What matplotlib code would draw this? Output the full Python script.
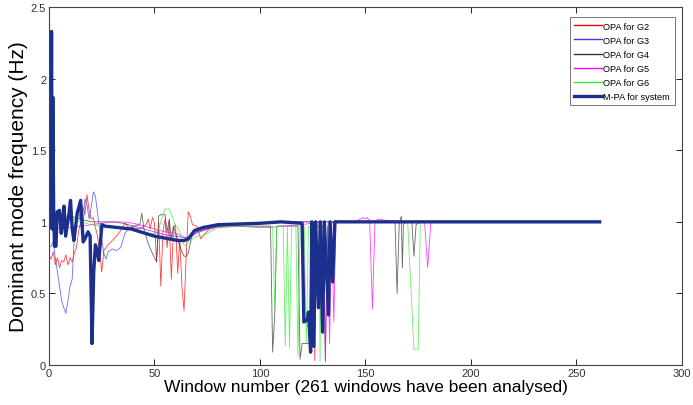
import matplotlib
matplotlib.use("Agg")
import matplotlib.pyplot as plt
from matplotlib import font_manager

# window numbers / dominant mode frequency (Hz)
w_g2 = [0, 1, 2, 3, 4, 5, 6, 7, 8, 9, 10, 11, 12, 13, 14, 15, 16, 17, 18, 19, 20,
        21, 22, 23, 24, 25, 26, 28, 30, 32, 34, 36, 38, 40, 42, 44, 46, 47, 48, 49,
        50, 51, 52, 53, 54, 55, 56, 57, 58, 59, 60, 61, 62, 63, 64, 65, 66, 67, 68,
        70, 72, 74, 76, 80, 90, 100, 110, 120, 125, 126, 127, 128, 130, 261]
f_g2 = [0.77, 0.74, 0.79, 0.70, 0.75, 0.68, 0.73, 0.72, 0.77, 0.70, 0.75, 0.72, 0.78,
        0.82, 0.93, 1.00, 1.11, 1.05, 1.19, 1.08, 1.02, 1.03, 0.96, 0.90, 0.78, 0.65,
        0.80, 0.84, 0.87, 0.90, 0.94, 0.99, 0.96, 0.96, 0.95, 0.96, 0.98, 1.02, 0.95,
        1.03, 0.99, 0.72, 1.00, 0.55, 0.93, 1.02, 0.82, 1.00, 0.60, 0.96, 0.98, 0.64,
        0.88, 0.55, 0.38, 0.75, 1.07, 1.04, 0.98, 0.97, 0.88, 0.92, 0.95, 0.97, 0.98,
        0.99, 1.00, 1.00, 1.00, 0.03, 1.00, 1.00, 1.00, 1.00]

w_g3 = [0, 1, 2, 3, 4, 5, 6, 7, 8, 9, 10, 11, 12, 13, 14, 15, 16, 17, 18, 19, 20, 21,
        22, 23, 24, 25, 26, 27, 28, 30, 32, 34, 36, 38, 40, 45, 50, 55, 60, 65, 70,
        75, 80, 90, 100, 110, 261]
f_g3 = [0.82, 0.83, 0.86, 0.75, 0.65, 0.55, 0.45, 0.40, 0.36, 0.45, 0.55, 0.60, 0.90,
        1.08, 1.10, 0.98, 0.93, 1.16, 1.12, 1.02, 1.10, 1.21, 1.18, 1.06, 0.95, 0.88,
        0.78, 0.74, 0.79, 0.81, 0.80, 0.82, 0.92, 0.96, 0.97, 0.95, 0.93, 0.91, 0.90,
        0.89, 0.92, 0.95, 0.97, 0.98, 0.99, 1.00, 1.00]

w_g4 = [0, 5, 10, 15, 20, 25, 30, 35, 40, 43, 44, 45, 47, 49, 51, 52, 53, 55, 56, 57,
        58, 59, 60, 62, 64, 65, 66, 67, 68, 70, 72, 75, 80, 90, 100, 105, 106, 107,
        108, 112, 118, 119, 120, 124, 125, 130, 131, 132, 135, 150, 164, 165, 166,
        167, 167.5, 168, 169, 172, 173, 174, 176, 261]
f_g4 = [1.02, 1.04, 1.04, 1.02, 1.00, 1.00, 1.00, 0.99, 0.97, 0.98, 1.06, 0.95, 0.85,
        0.78, 0.72, 1.04, 1.05, 1.05, 0.93, 1.02, 0.88, 0.97, 0.92, 0.83, 0.76, 0.76,
        0.78, 0.85, 0.92, 0.93, 0.94, 0.95, 0.97, 0.97, 0.97, 0.97, 0.09, 0.35, 0.97,
        0.97, 0.97, 0.04, 0.15, 0.15, 0.97, 0.97, 0.03, 0.97, 1.00, 1.00, 1.00, 0.50,
        0.98, 1.04, 0.68, 0.98, 1.00, 1.00, 0.76, 0.98, 1.00, 1.00]

w_g5 = [0, 10, 20, 30, 35, 40, 45, 50, 55, 60, 63, 65, 68, 70, 75, 80, 90, 100, 105,
        110, 120, 128, 129, 130, 131, 132, 133, 134, 135, 136, 145, 149, 150, 151, 152,
        153.3, 154.5, 156, 160, 170, 178, 179.5, 181, 261]
f_g5 = [0.95, 0.96, 0.98, 1.00, 1.00, 0.99, 0.97, 0.95, 0.93, 0.92, 0.90, 0.88, 0.90,
        0.93, 0.95, 0.96, 0.97, 0.96, 0.96, 0.97, 0.98, 1.00, 0.30, 1.00, 0.02, 0.95,
        0.15, 1.00, 0.30, 1.00, 1.00, 1.03, 1.02, 1.03, 1.00, 0.39, 1.00, 1.02, 1.01,
        1.00, 1.00, 0.68, 1.00, 1.00]

w_g6 = [0, 5, 10, 15, 20, 25, 30, 35, 40, 45, 48, 50, 52, 54, 55, 57, 58, 60, 61, 62,
        63, 64, 65, 66, 68, 70, 72, 74, 76, 80, 90, 100, 106, 107, 108, 111, 112, 113,
        114, 115, 117, 118, 119, 121, 122, 123, 128, 128.5, 129, 135, 150, 170, 173,
        175, 176, 261]
f_g6 = [1.00, 1.03, 1.03, 1.00, 0.98, 0.97, 0.97, 0.96, 0.94, 0.92, 0.92, 0.92, 0.95,
        1.05, 1.09, 1.09, 1.05, 0.97, 0.96, 0.93, 0.88, 0.84, 0.83, 0.86, 0.88, 0.90,
        0.90, 0.91, 0.93, 0.96, 0.97, 0.97, 0.97, 0.40, 0.97, 0.97, 0.13, 0.97, 0.12,
        0.97, 0.97, 0.06, 0.97, 0.97, 0.15, 0.97, 0.97, 0.03, 0.97, 1.00, 1.00, 1.00,
        0.11, 0.11, 1.00, 1.00]

w_mpa = [0, 0.5, 0.8, 1.2, 1.5, 1.8, 2.2, 2.6, 3.3, 3.9, 5.0, 5.8, 6.5, 7.1, 7.9, 9.4,
         10.2, 11.0, 11.8, 13.4, 15.0, 16.2, 17.0, 18.5, 19.5, 20.4, 21.2, 22.0, 22.8,
         23.6, 25.1, 26.5, 39, 50, 61, 64, 66, 69, 73, 80, 100, 110, 120, 120.8, 122.5,
         123, 124, 124.6, 125.5, 126.4, 127.7, 128.6, 129.7, 130.5, 132.5, 133.2, 134.5,
         135.5, 261]
f_mpa = [1.00, 1.45, 1.00, 2.33, 0.95, 1.87, 1.10, 0.83, 0.83, 1.07, 1.08, 0.92, 1.00,
         1.11, 0.90, 1.05, 1.15, 0.95, 0.87, 1.06, 1.15, 0.86, 0.88, 0.93, 0.90, 0.15,
         0.65, 0.84, 0.80, 0.73, 0.98, 0.97, 0.95, 0.90, 0.87, 0.87, 0.88, 0.94, 0.96,
         0.98, 0.99, 1.00, 0.99, 0.30, 0.32, 0.37, 0.09, 1.00, 0.13, 1.00, 0.40, 1.00,
         0.23, 1.00, 0.35, 1.00, 0.58, 1.00, 1.00]

labels = ["OPA for G2", "OPA for G3", "OPA for G4", "OPA for G5", "OPA for G6",
          "M-PA for system"]
colors = ["#ff0000", "#3a3aff", "#333333", "#ff00ff", "#33ee33", "#1c2f8c"]

narrow = ["Liberation Sans Narrow", "Liberation Sans", "DejaVu Sans"]
plain = ["Liberation Sans", "DejaVu Sans"]

fig = plt.figure(figsize=(6.93, 4.06), dpi=100)
ax = fig.add_axes([0.0707, 0.0985, 0.9133, 0.8815])

series = [(w_g2, f_g2), (w_g3, f_g3), (w_g4, f_g4), (w_g5, f_g5), (w_g6, f_g6)]
for (w, f), lab, col in zip(series, labels[:5], colors[:5]):
    ax.plot(w, f, color=col, lw=0.6, alpha=0.75, label=lab)
ax.plot(w_mpa, f_mpa, color=colors[5], lw=2.4, label=labels[5])

ax.set_xlim(0, 300)
ax.set_ylim(0, 2.5)
ax.set_xticks([0, 50, 100, 150, 200, 250, 300])
ax.set_yticks([0, 0.5, 1, 1.5, 2, 2.5])
ax.set_yticklabels(["0", "0.5", "1", "1.5", "2", "2.5"])
ax.tick_params(direction="in", top=True, right=True, length=4, width=0.6,
               labelsize=8, pad=2, labelcolor="#333333")
for t in ax.get_xticklabels() + ax.get_yticklabels():
    t.set_family(narrow)
for s in ax.spines.values():
    s.set_linewidth(0.8)
    s.set_color("#444444")

ax.set_xlabel("Window number (261 windows have been analysed)", fontsize=12.5,
              family=plain, labelpad=1)
ax.set_ylabel("Dominant mode frequency (Hz)", fontsize=15, family=plain,
              labelpad=2)

leg = ax.legend(loc="upper right", prop=font_manager.FontProperties(family=narrow, size=6.6),
                frameon=True, fancybox=False, edgecolor="#555555", handlelength=3.0,
                handletextpad=0.2, labelspacing=0.55, borderpad=0.5,
                bbox_to_anchor=(0.996, 0.985))
leg.get_frame().set_linewidth(0.7)
for h in leg.legend_handles[:5]:
    h.set_alpha(1.0)
    h.set_linewidth(1.0)
leg.legend_handles[5].set_linewidth(2.4)

fig.savefig("out.png", dpi=100)
